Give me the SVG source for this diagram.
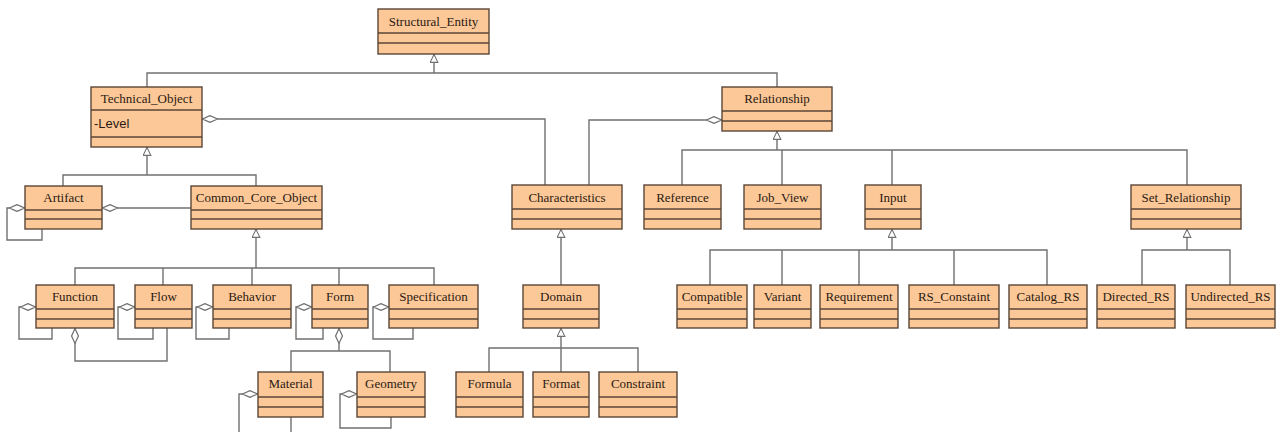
<svg xmlns="http://www.w3.org/2000/svg" width="1277" height="432" viewBox="0 0 1277 432">
<style>
.box rect{fill:#fcc898;stroke:#5b4636;stroke-width:1.4}
.box line{stroke:#5b4636;stroke-width:1.4}
.box text{font-family:"Liberation Serif","Times New Roman",serif;font-size:13px;fill:#2a1a12;text-anchor:middle}
.box text.attr{font-family:"Liberation Sans",Arial,sans-serif;text-anchor:start}
#connectors path{fill:none;stroke:#707070;stroke-width:1.4}
.gen{marker-end:url(#tri)}
.agg{marker-end:url(#dia)}
</style>
<defs>
<marker id="tri" viewBox="0 0 10 10" refX="10" refY="5" markerWidth="10" markerHeight="9" orient="auto" markerUnits="userSpaceOnUse">
<path d="M0.7,0.7 L9.5,5 L0.7,9.3 Z" fill="#fff" stroke="#707070" stroke-width="1.2"/>
</marker>
<marker id="dia" viewBox="0 0 16 8" refX="16" refY="4" markerWidth="16" markerHeight="8" orient="auto" markerUnits="userSpaceOnUse">
<path d="M0.5,4 L8,0.6 L15.5,4 L8,7.4 Z" fill="#fff" stroke="#707070" stroke-width="1.2"/>
</marker>
</defs>
<rect width="1277" height="432" fill="#fff"/>
<g id="connectors">
<path d="M147,87 V73 H777 V87"/>
<path class="gen" d="M434,73 V54"/>
<path d="M63,186 V175 H256 V186"/>
<path class="gen" d="M147,175 V147"/>
<path class="agg" d="M545,185 V119 H202"/>
<path class="agg" d="M589,185 V120 H722"/>
<path class="agg" d="M191,208 H102"/>
<path class="agg" d="M42,229 V240 H7 V208 H25"/>
<path d="M75,285 V268 H434 V285 M163,268 V285 M252,268 V285 M339,268 V285"/>
<path class="gen" d="M256,268 V229"/>
<path class="agg" d="M52,328 V339 H19 V307 H36"/>
<path class="agg" d="M153,328 V339 H118 V307 H135"/>
<path class="agg" d="M229,328 V339 H196 V307 H213"/>
<path class="agg" d="M323,328 V339 H296 V307 H312"/>
<path class="agg" d="M413,328 V339 H373 V307 H389"/>
<path class="agg" d="M167,328 V361 H75 V328"/>
<path d="M291,372 V351 H390 V372"/>
<path class="agg" d="M339,351 V328"/>
<path class="agg" d="M239,432 V394 H258"/>
<path d="M291,417 V432"/>
<path class="agg" d="M391,417 V428 H340 V394 H357"/>
<path d="M682,185 V150 H1187 V185 M782,150 V185 M892,150 V185"/>
<path class="gen" d="M777,150 V131"/>
<path class="gen" d="M561,285 V229"/>
<path d="M489,372 V348 H638 V372 M561,348 V372"/>
<path class="gen" d="M561,348 V328"/>
<path d="M710,285 V250 H1047 V285 M782,250 V285 M859,250 V285 M954,250 V285"/>
<path class="gen" d="M892,250 V229"/>
<path d="M1142,285 V250 H1230 V285"/>
<path class="gen" d="M1187,250 V229"/>
</g>
<g id="Structural_Entity" class="box"><rect x="378" y="9" width="111" height="45"/><line x1="378" y1="33" x2="489" y2="33"/><line x1="378" y1="43" x2="489" y2="43"/><text x="433.5" y="26">Structural_Entity</text></g>
<g id="Technical_Object" class="box"><rect x="91" y="87" width="111" height="60"/><line x1="91" y1="110" x2="202" y2="110"/><line x1="91" y1="137" x2="202" y2="137"/><text x="146.5" y="103">Technical_Object</text><text class="attr" x="94" y="128">-Level</text></g>
<g id="Relationship" class="box"><rect x="722" y="87" width="110" height="44"/><line x1="722" y1="111" x2="832" y2="111"/><line x1="722" y1="121" x2="832" y2="121"/><text x="777" y="103">Relationship</text></g>
<g id="Artifact" class="box"><rect x="25" y="186" width="77" height="43"/><line x1="25" y1="210" x2="102" y2="210"/><line x1="25" y1="219" x2="102" y2="219"/><text x="63.5" y="202">Artifact</text></g>
<g id="Common_Core_Object" class="box"><rect x="191" y="186" width="131" height="43"/><line x1="191" y1="210" x2="322" y2="210"/><line x1="191" y1="219" x2="322" y2="219"/><text x="256.5" y="202">Common_Core_Object</text></g>
<g id="Characteristics" class="box"><rect x="512" y="185" width="110" height="44"/><line x1="512" y1="209" x2="622" y2="209"/><line x1="512" y1="219" x2="622" y2="219"/><text x="567" y="202">Characteristics</text></g>
<g id="Reference" class="box"><rect x="644" y="185" width="77" height="44"/><line x1="644" y1="209" x2="721" y2="209"/><line x1="644" y1="219" x2="721" y2="219"/><text x="682.5" y="202">Reference</text></g>
<g id="Job_View" class="box"><rect x="744" y="185" width="77" height="44"/><line x1="744" y1="209" x2="821" y2="209"/><line x1="744" y1="219" x2="821" y2="219"/><text x="782.5" y="202">Job_View</text></g>
<g id="Input" class="box"><rect x="865" y="185" width="56" height="44"/><line x1="865" y1="209" x2="921" y2="209"/><line x1="865" y1="219" x2="921" y2="219"/><text x="893" y="202">Input</text></g>
<g id="Set_Relationship" class="box"><rect x="1131" y="185" width="110" height="44"/><line x1="1131" y1="209" x2="1241" y2="209"/><line x1="1131" y1="219" x2="1241" y2="219"/><text x="1186" y="202">Set_Relationship</text></g>
<g id="Function" class="box"><rect x="36" y="285" width="78" height="43"/><line x1="36" y1="309" x2="114" y2="309"/><line x1="36" y1="319" x2="114" y2="319"/><text x="75" y="301">Function</text></g>
<g id="Flow" class="box"><rect x="135" y="285" width="57" height="43"/><line x1="135" y1="309" x2="192" y2="309"/><line x1="135" y1="319" x2="192" y2="319"/><text x="163.5" y="301">Flow</text></g>
<g id="Behavior" class="box"><rect x="213" y="285" width="78" height="43"/><line x1="213" y1="309" x2="291" y2="309"/><line x1="213" y1="319" x2="291" y2="319"/><text x="252" y="301">Behavior</text></g>
<g id="Form" class="box"><rect x="312" y="285" width="56" height="43"/><line x1="312" y1="309" x2="368" y2="309"/><line x1="312" y1="319" x2="368" y2="319"/><text x="340" y="301">Form</text></g>
<g id="Specification" class="box"><rect x="389" y="285" width="89" height="43"/><line x1="389" y1="309" x2="478" y2="309"/><line x1="389" y1="319" x2="478" y2="319"/><text x="433.5" y="301">Specification</text></g>
<g id="Domain" class="box"><rect x="523" y="285" width="76" height="43"/><line x1="523" y1="309" x2="599" y2="309"/><line x1="523" y1="319" x2="599" y2="319"/><text x="561" y="301">Domain</text></g>
<g id="Compatible" class="box"><rect x="677" y="285" width="70" height="43"/><line x1="677" y1="309" x2="747" y2="309"/><line x1="677" y1="319" x2="747" y2="319"/><text x="712" y="301">Compatible</text></g>
<g id="Variant" class="box"><rect x="754" y="285" width="57" height="43"/><line x1="754" y1="309" x2="811" y2="309"/><line x1="754" y1="319" x2="811" y2="319"/><text x="782.5" y="301">Variant</text></g>
<g id="Requirement" class="box"><rect x="820" y="285" width="78" height="43"/><line x1="820" y1="309" x2="898" y2="309"/><line x1="820" y1="319" x2="898" y2="319"/><text x="859" y="301">Requirement</text></g>
<g id="RS_Constaint" class="box"><rect x="909" y="285" width="90" height="43"/><line x1="909" y1="309" x2="999" y2="309"/><line x1="909" y1="319" x2="999" y2="319"/><text x="954" y="301">RS_Constaint</text></g>
<g id="Catalog_RS" class="box"><rect x="1009" y="285" width="78" height="43"/><line x1="1009" y1="309" x2="1087" y2="309"/><line x1="1009" y1="319" x2="1087" y2="319"/><text x="1048" y="301">Catalog_RS</text></g>
<g id="Directed_RS" class="box"><rect x="1097" y="285" width="78" height="43"/><line x1="1097" y1="309" x2="1175" y2="309"/><line x1="1097" y1="319" x2="1175" y2="319"/><text x="1136" y="301">Directed_RS</text></g>
<g id="Undirected_RS" class="box"><rect x="1186" y="285" width="89" height="43"/><line x1="1186" y1="309" x2="1275" y2="309"/><line x1="1186" y1="319" x2="1275" y2="319"/><text x="1230.5" y="301">Undirected_RS</text></g>
<g id="Material" class="box"><rect x="258" y="372" width="65" height="45"/><line x1="258" y1="397" x2="323" y2="397"/><line x1="258" y1="407" x2="323" y2="407"/><text x="290.5" y="388">Material</text></g>
<g id="Geometry" class="box"><rect x="357" y="372" width="68" height="45"/><line x1="357" y1="397" x2="425" y2="397"/><line x1="357" y1="407" x2="425" y2="407"/><text x="391" y="388">Geometry</text></g>
<g id="Formula" class="box"><rect x="456" y="372" width="67" height="45"/><line x1="456" y1="397" x2="523" y2="397"/><line x1="456" y1="407" x2="523" y2="407"/><text x="489.5" y="388">Formula</text></g>
<g id="Format" class="box"><rect x="533" y="372" width="56" height="45"/><line x1="533" y1="397" x2="589" y2="397"/><line x1="533" y1="407" x2="589" y2="407"/><text x="561" y="388">Format</text></g>
<g id="Constraint" class="box"><rect x="599" y="372" width="78" height="45"/><line x1="599" y1="397" x2="677" y2="397"/><line x1="599" y1="407" x2="677" y2="407"/><text x="638" y="388">Constraint</text></g>
</svg>
